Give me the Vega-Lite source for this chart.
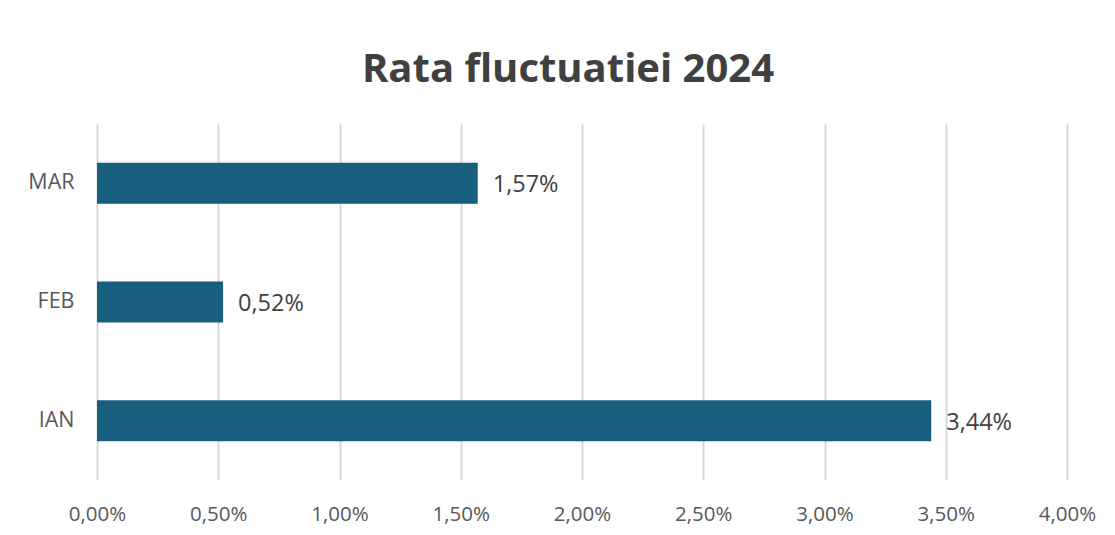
{
  "$schema": "https://vega.github.io/schema/vega-lite/v6.json",
  "width": 970,
  "height": 356,
  "autosize": {"type": "none"},
  "padding": {"left": 97, "top": 124, "right": 48, "bottom": 55},
  "background": "white",
  "title": {
    "text": "Rata fluctuatiei 2024",
    "font": "Open Sans",
    "fontSize": 40,
    "fontWeight": "bold",
    "color": "#404040",
    "anchor": "middle",
    "offset": 34,
    "dx": -14
  },
  "config": {
    "view": {"stroke": null},
    "locale": {
      "number": {"decimal": ",", "thousands": ".", "grouping": [3], "currency": ["", " lei"]}
    }
  },
  "data": {
    "values": [
      {"luna": "IAN", "rata": 0.0344},
      {"luna": "FEB", "rata": 0.0052},
      {"luna": "MAR", "rata": 0.0157}
    ]
  },
  "encoding": {
    "y": {
      "field": "luna",
      "type": "nominal",
      "sort": ["MAR", "FEB", "IAN"],
      "scale": {"paddingInner": 0.655, "paddingOuter": 0.3275},
      "axis": {
        "title": null,
        "domain": false,
        "ticks": false,
        "labelPadding": 23,
        "labelFont": "Open Sans",
        "labelFontSize": 21.5,
        "labelColor": "#595959"
      }
    },
    "x": {
      "field": "rata",
      "type": "quantitative",
      "scale": {"domain": [0, 0.04], "nice": false},
      "axis": {
        "title": null,
        "format": ".2%",
        "values": [0, 0.005, 0.01, 0.015, 0.02, 0.025, 0.03, 0.035, 0.04],
        "domain": false,
        "ticks": false,
        "grid": true,
        "gridColor": "#d9d9d9",
        "gridWidth": 2,
        "labelPadding": 24,
        "labelFont": "Open Sans",
        "labelFontSize": 20.5,
        "labelColor": "#595959",
        "labelFlush": false
      }
    }
  },
  "layer": [
    {"mark": {"type": "bar", "color": "#185E7F"}},
    {
      "mark": {"type": "text", "align": "left", "baseline": "middle", "dx": 15, "dy": 2, "font": "Open Sans", "fontSize": 23.5, "color": "#404040"},
      "encoding": {"text": {"field": "rata", "type": "quantitative", "format": ".2%"}}
    }
  ]
}
